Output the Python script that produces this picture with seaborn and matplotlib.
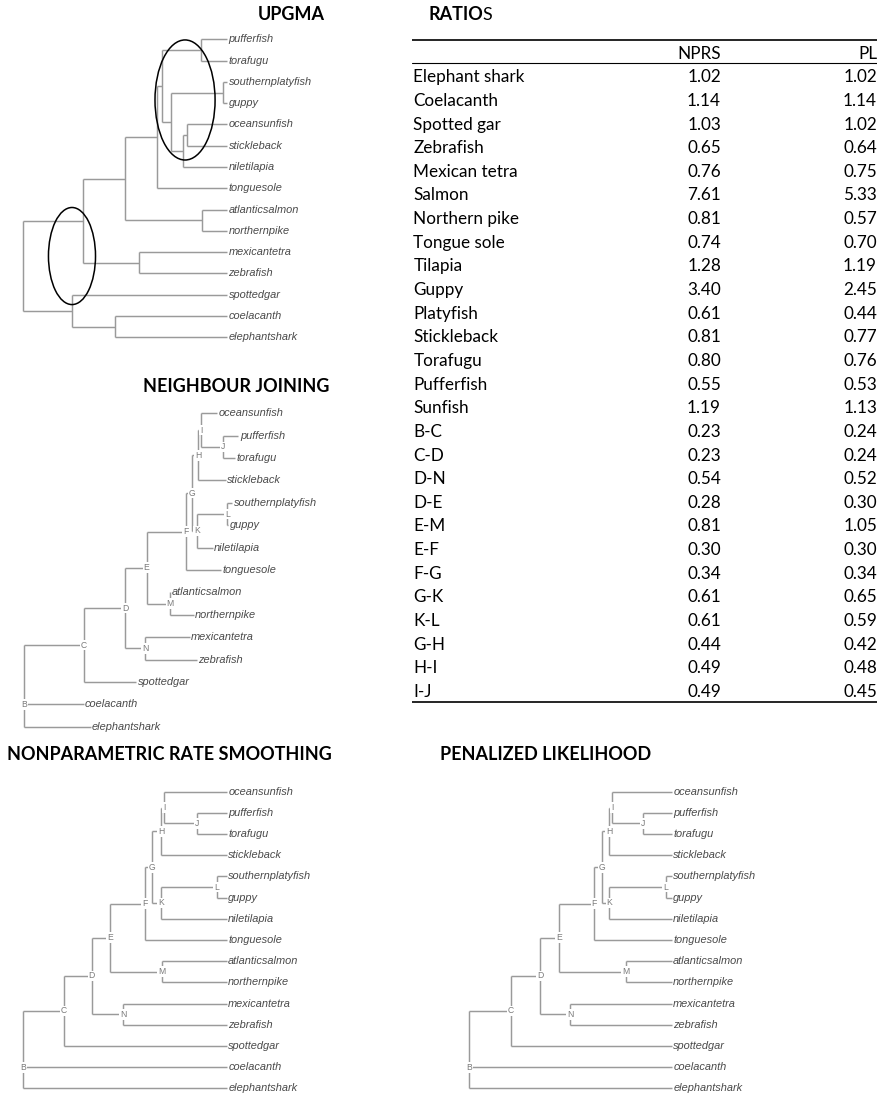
import numpy as np
import pandas as pd
import matplotlib
matplotlib.use("Agg")
import matplotlib.pyplot as plt
from matplotlib.patches import Ellipse
from matplotlib.transforms import offset_copy
import seaborn as sns

sns.set_theme(style="white")
plt.rcParams["font.family"] = ["Lato", "DejaVu Sans"]

W, H = 884, 1096

# ---------------- UPGMA tree (ultrametric, depth 1.0 at the tips) ----------------
UPGMA_TIPS = ["pufferfish", "torafugu", "southernplatyfish", "guppy", "oceansunfish",
              "stickleback", "niletilapia", "tonguesole", "atlanticsalmon", "northernpike",
              "mexicantetra", "zebrafish", "spottedgar", "coelacanth", "elephantshark"]
UPGMA_NODES = ["u0", "u1", "u2", "u3", "u4", "u5", "u6", "u7", "u8", "u9", "u10", "u11", "u12", "u13"]
UPGMA_NODE_DEPTH = [0.0, 0.294, 0.50, 0.657, 0.681, 0.873, 0.725, 0.98, 0.784, 0.804,
                    0.877, 0.569, 0.24, 0.451]
UPGMA_EDGE_PARENT = ["u0", "u0", "u1", "u1", "u2", "u2", "u3", "u3", "u4", "u4", "u5", "u5",
                     "u6", "u6", "u7", "u7", "u8", "u8", "u9", "u9", "u10", "u10", "u11", "u11",
                     "u12", "u12", "u13", "u13"]
UPGMA_EDGE_CHILD = ["u1", "u12", "u2", "u11", "u3", "u10", "u4", "tonguesole", "u5", "u6",
                    "pufferfish", "torafugu", "u7", "u8", "southernplatyfish", "guppy", "u9",
                    "niletilapia", "oceansunfish", "stickleback", "atlanticsalmon", "northernpike",
                    "mexicantetra", "zebrafish", "spottedgar", "u13", "coelacanth", "elephantshark"]

# ---------------- labelled trees (NJ, NPRS, PL share one topology) ----------------
LT_TIPS = ["oceansunfish", "pufferfish", "torafugu", "stickleback", "southernplatyfish", "guppy",
           "niletilapia", "tonguesole", "atlanticsalmon", "northernpike", "mexicantetra",
           "zebrafish", "spottedgar", "coelacanth", "elephantshark"]
LT_NODES = ["B", "C", "D", "E", "F", "G", "H", "I", "J", "K", "L", "M", "N"]
LT_EDGE_PARENT = ["B", "B", "B", "C", "C", "D", "D", "E", "E", "F", "F", "G", "G", "H", "H",
                  "I", "I", "J", "J", "K", "K", "L", "L", "M", "M", "N", "N"]
LT_EDGE_CHILD = ["C", "coelacanth", "elephantshark", "D", "spottedgar", "E", "N", "F", "M",
                 "G", "tonguesole", "H", "K", "I", "stickleback", "oceansunfish", "J",
                 "pufferfish", "torafugu", "L", "niletilapia", "southernplatyfish", "guppy",
                 "atlanticsalmon", "northernpike", "mexicantetra", "zebrafish"]

NJ_NODE_DEPTH = [0.0, 0.30, 0.505, 0.613, 0.808, 0.84, 0.872, 0.885, 0.997, 0.864, 1.017, 0.73, 0.605]
NJ_TIP_DEPTH = [0.964, 1.072, 1.053, 1.008, 1.04, 1.02, 0.943, 0.983, 0.73, 0.848, 0.828,
                0.864, 0.561, 0.298, 0.333]
NPRS_NODE_DEPTH = [0.0, 0.20, 0.336, 0.426, 0.598, 0.634, 0.677, 0.693, 0.853, 0.676, 0.951, 0.68, 0.49]
PL_NODE_DEPTH = [0.0, 0.207, 0.35, 0.445, 0.618, 0.655, 0.692, 0.707, 0.857, 0.692, 0.970, 0.773, 0.498]
ULTRAMETRIC_TIP_DEPTH = [1.0] * 15

# ---------------- rate ratios table ----------------
ROW_LABELS = ["Elephant shark", "Coelacanth", "Spotted gar", "Zebrafish", "Mexican tetra",
              "Salmon", "Northern pike", "Tongue sole", "Tilapia", "Guppy", "Platyfish",
              "Stickleback", "Torafugu", "Pufferfish", "Sunfish", "B-C", "C-D", "D-N", "D-E",
              "E-M", "E-F", "F-G", "G-K", "K-L", "G-H", "H-I", "I-J"]
NPRS_RATIO = [1.02, 1.14, 1.03, 0.65, 0.76, 7.61, 0.81, 0.74, 1.28, 3.40, 0.61, 0.81, 0.80,
              0.55, 1.19, 0.23, 0.23, 0.54, 0.28, 0.81, 0.30, 0.34, 0.61, 0.61, 0.44, 0.49, 0.49]
PL_RATIO = [1.02, 1.14, 1.02, 0.64, 0.75, 5.33, 0.57, 0.70, 1.19, 2.45, 0.44, 0.77, 0.76,
            0.53, 1.13, 0.24, 0.24, 0.52, 0.30, 1.05, 0.30, 0.34, 0.65, 0.59, 0.42, 0.48, 0.45]
TABLE_COLUMNS = ["NPRS", "PL"]

LINE_COLOR = "#9a9a9a"
TIP_COLOR = "#4a4a4a"
NODE_COLOR = "#7a7a7a"

fig = plt.figure(figsize=(W / 100, H / 100), dpi=100)
fig.patch.set_facecolor("white")


def tree_axes(root_px, unit_px, top_px, step_px, n_tips, xspan=(-0.1, 1.2)):
    x0 = root_px + xspan[0] * unit_px
    x1 = root_px + xspan[1] * unit_px
    y0 = top_px - 0.5 * step_px
    y1 = top_px + (n_tips - 0.5) * step_px
    ax = fig.add_axes([x0 / W, 1 - y1 / H, (x1 - x0) / W, (y1 - y0) / H])
    return ax, xspan, (n_tips - 0.5, -0.5)


def draw_tree(ax, lims, tips, tip_depth, nodes, node_depth, parents, kids, show_nodes):
    depth = dict(zip(tips, tip_depth))
    depth.update(zip(nodes, node_depth))
    ypos = {t: float(i) for i, t in enumerate(tips)}
    children = {}
    for p, c in zip(parents, kids):
        children.setdefault(p, []).append(c)

    def y_of(n):
        if n not in ypos:
            ypos[n] = float(np.median([y_of(c) for c in children[n]]))
        return ypos[n]

    for n in nodes:
        y_of(n)

    rows = []
    seg = 0
    for p, ks in children.items():
        ys = [ypos[k] for k in ks]
        rows += [(seg, depth[p], min(ys)), (seg, depth[p], max(ys))]
        seg += 1
        for k in ks:
            rows += [(seg, depth[p], ypos[k]), (seg, depth[k], ypos[k])]
            seg += 1
    df = pd.DataFrame(rows, columns=["seg", "x", "y"])
    sns.lineplot(data=df, x="x", y="y", units="seg", estimator=None, sort=False,
                 color=LINE_COLOR, lw=1.05, ax=ax, legend=False)
    for ln in ax.lines:
        ln.set_clip_on(False)
        ln.set_solid_capstyle("butt")

    tip_tr = offset_copy(ax.transData, fig=fig, x=1.5, y=0, units="dots")
    for t in tips:
        ax.text(depth[t], ypos[t], t, transform=tip_tr, ha="left", va="center",
                fontsize=7.9, style="italic", color=TIP_COLOR,
                family=["Liberation Sans", "DejaVu Sans"])
    if show_nodes:
        for n in nodes:
            ax.text(depth[n], ypos[n], n, ha="center", va="center", fontsize=6.2,
                    color=NODE_COLOR, family=["Liberation Sans", "DejaVu Sans"], zorder=5,
                    bbox=dict(facecolor="white", edgecolor="none", pad=0.6))
    ax.set_xlim(*lims[0])
    ax.set_ylim(*lims[1])
    ax.axis("off")


# UPGMA
ax_u, xl, yl = tree_axes(23.3, 203.7, 39.3, 21.29, 15)
draw_tree(ax_u, (xl, yl), UPGMA_TIPS, ULTRAMETRIC_TIP_DEPTH, UPGMA_NODES, UPGMA_NODE_DEPTH,
          UPGMA_EDGE_PARENT, UPGMA_EDGE_CHILD, show_nodes=False)
for (cx, cy, ew, eh) in [(0.794, 2.85, 0.295, 5.64), (0.239, 10.18, 0.231, 4.56)]:
    ax_u.add_patch(Ellipse((cx, cy), ew, eh, facecolor="none", edgecolor="black",
                           lw=1.1, clip_on=False, zorder=6))

# Neighbour joining
ax_nj, xl, yl = tree_axes(24.0, 200.0, 413.3, 22.4, 15)
draw_tree(ax_nj, (xl, yl), LT_TIPS, NJ_TIP_DEPTH, LT_NODES, NJ_NODE_DEPTH,
          LT_EDGE_PARENT, LT_EDGE_CHILD, show_nodes=True)

# NPRS
ax_np, xl, yl = tree_axes(23.3, 203.4, 791.7, 21.19, 15)
draw_tree(ax_np, (xl, yl), LT_TIPS, ULTRAMETRIC_TIP_DEPTH, LT_NODES, NPRS_NODE_DEPTH,
          LT_EDGE_PARENT, LT_EDGE_CHILD, show_nodes=True)

# Penalized likelihood
ax_pl, xl, yl = tree_axes(469.0, 202.7, 791.7, 21.19, 15)
draw_tree(ax_pl, (xl, yl), LT_TIPS, ULTRAMETRIC_TIP_DEPTH, LT_NODES, PL_NODE_DEPTH,
          LT_EDGE_PARENT, LT_EDGE_CHILD, show_nodes=True)

# ---------------- table ----------------
T_LEFT, T_RIGHT = 412.0, 877.0
ROW0, ROW_STEP = 77.3, 23.64
t_top, t_bot = 30.0, 712.0
ax_t = fig.add_axes([T_LEFT / W, 1 - t_bot / H, (T_RIGHT - T_LEFT) / W, (t_bot - t_top) / H])
ax_t.set_xlim(0, 1)
ax_t.set_ylim((t_bot - ROW0) / ROW_STEP, (t_top - ROW0) / ROW_STEP)
ax_t.axis("off")
col_right = [(721.0 - T_LEFT) / (T_RIGHT - T_LEFT), 1.0]
tfs = 12.3
ax_t.axhline((40.0 - ROW0) / ROW_STEP, color="black", lw=1.2)
ax_t.axhline((63.0 - ROW0) / ROW_STEP, color="black", lw=0.8)
ax_t.axhline((702.0 - ROW0) / ROW_STEP, color="black", lw=1.2)
for xr, name in zip(col_right, TABLE_COLUMNS):
    ax_t.text(xr, -1.0, name, ha="right", va="center", fontsize=tfs, color="black")
for i, (lab, a, b) in enumerate(zip(ROW_LABELS, NPRS_RATIO, PL_RATIO)):
    ax_t.text(0.003, i, lab, ha="left", va="center", fontsize=tfs, color="black")
    ax_t.text(col_right[0], i, f"{a:.2f}", ha="right", va="center", fontsize=tfs, color="black")
    ax_t.text(col_right[1], i, f"{b:.2f}", ha="right", va="center", fontsize=tfs, color="black")

# ---------------- panel titles ----------------
TFS = 13.0
titles = [("UPGMA", 258, 15), ("NEIGHBOUR JOINING", 143, 386),
          ("NONPARAMETRIC RATE SMOOTHING", 7, 755), ("PENALIZED LIKELIHOOD", 440, 755)]
for text, x, y in titles:
    fig.text(x / W, 1 - y / H, text, ha="left", va="center", fontsize=TFS,
             fontweight="bold", color="black")
r1 = fig.text(429 / W, 1 - 15 / H, "RATIO", ha="left", va="center", fontsize=TFS,
              fontweight="bold", color="black")
fig.canvas.draw()
bb = r1.get_window_extent(renderer=fig.canvas.get_renderer())
fig.text((bb.x1 - 1) / W, 1 - 15 / H, "S", ha="left", va="center", fontsize=TFS, color="black")

fig.savefig("out.png", dpi=100)
